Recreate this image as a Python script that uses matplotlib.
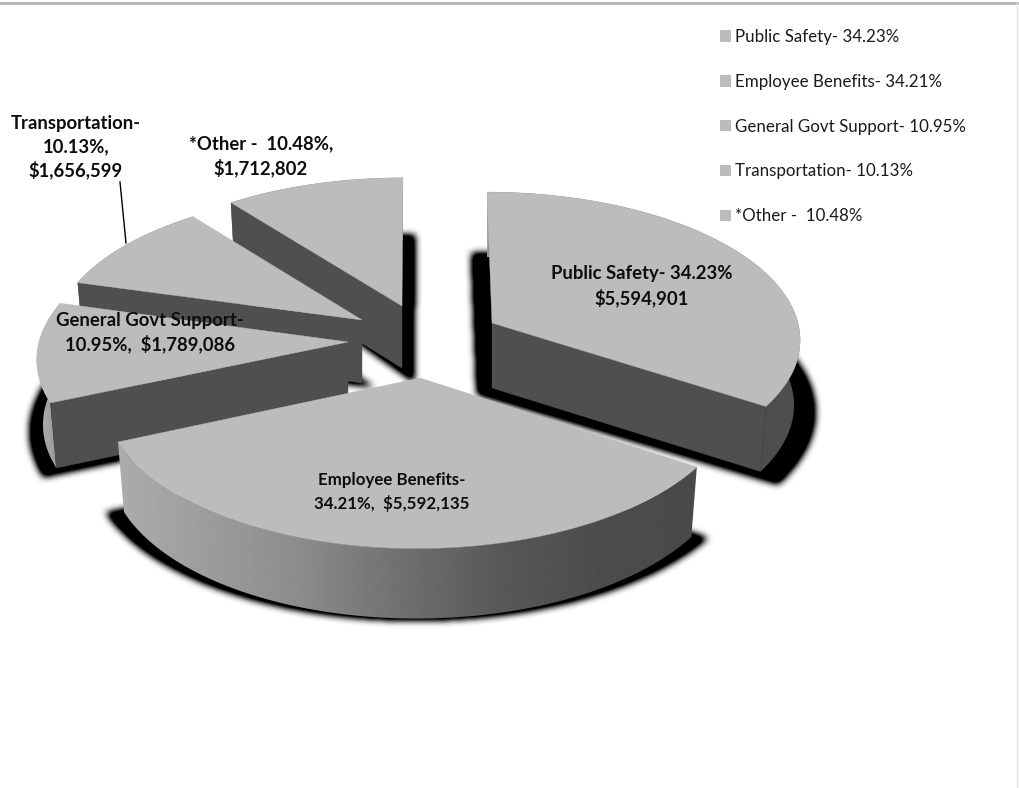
import numpy as np
import matplotlib
matplotlib.use('Agg')
import matplotlib.pyplot as plt
from matplotlib.patches import Patch, Polygon
from matplotlib.path import Path

categories = ['Public Safety-', 'Employee Benefits-', 'General Govt Support-', 'Transportation-', '*Other - ']
shares = [34.23, 34.21, 10.95, 10.13, 10.48]
amounts = [5594901, 5592135, 1789086, 1656599, 1712802]

# line breaks of each slice label
label_formats = ['{c} {p}%\n{a}', '{c}\n{p}%,  {a}', '{c}\n{p}%,  {a}', '{c}\n{p}%,\n{a}', '{c} {p}%,\n{a}']
label_x = [642, 392, 150, 76, 261]
label_y = [286, 492, 332.5, 147.5, 156.5]
label_size = [13.3, 12.2, 13.3, 13.3, 13.3]
label_spacing = [1.39, 1.52, 1.39, 1.39, 1.39]

# placement of each exploded slice on the page
apex_x = [492, 420, 348, 362, 402]
apex_y = [323, 378, 342, 320, 306]
radius_x = [306, 315, 309, 305, 303]
radius_y = [144, 153.5, 146, 141, 141]
skew = [-5.5, 3.3, 6.3, 5.4, 1.1]
depth = [65, 70, 65, 63, 62]
PERSPECTIVE = 0.1
BASE_SHRINK = 0.98

# which straight side of the slice faces the viewer: first edge, last edge or neither
cut_edges = [[-1], [], [0], [0], [0]]

# drop shadow: x scale, y scale, x shift, y shift
shadow_sx = [1.12, 1.06, 1.03, 1.0, 1.0]
shadow_sy = [1.08, 1.01, 1.05, 1.0, 1.15]
shadow_dx = [-15, 0, -4, 12, 12]
shadow_dy = [6, 0, 6, 4, 14]

# outer wall shading, page x against grey level
wall_x = [[486, 493, 800], [118, 300, 400, 500, 600, 697], [36, 60, 350], [78, 360], [230, 403]]
wall_grey = [[170, 78, 78], [172, 140, 112, 88, 76, 74], [178, 150, 120], [80, 80], [80, 80]]

TOP = '#bcbcbc'
CUT = '#4f4f4f'
W, H = 1019, 788


def rim(i, theta, base=False, sx=1.0, sy=1.0):
    c, s = np.cos(theta), np.sin(theta)
    f = 1 / (1 + PERSPECTIVE * s)
    dx = (radius_x[i] * c + skew[i] * s) * f * sx
    dy = -radius_y[i] * s * f * sy
    if base:
        return apex_x[i] + dx * BASE_SHRINK, apex_y[i] + dy + depth[i]
    return apex_x[i] + dx, apex_y[i] + dy


def blur(a, size):
    kernel = np.ones(size) / size
    for _ in range(3):
        a = np.apply_along_axis(lambda r: np.convolve(r, kernel, mode='same'), 0, a)
        a = np.apply_along_axis(lambda r: np.convolve(r, kernel, mode='same'), 1, a)
    return a


# slice angles, clockwise from twelve o'clock
edges = 90 - np.concatenate([[0], np.cumsum(shares)]) / sum(shares) * 360
arcs = [np.radians(np.linspace(edges[i], edges[i + 1], 120)) for i in range(len(shares))]

fig = plt.figure(figsize=(W / 100, H / 100), dpi=100)
ax = fig.add_axes([0, 0, 1, 1])
ax.set_xlim(0, W)
ax.set_ylim(H, 0)
ax.axis('off')
plt.rcParams['font.family'] = ['Lato', 'DejaVu Sans']

# soft shadows go under everything
gx, gy = np.meshgrid(np.arange(W) + 0.5, np.arange(H) + 0.5)
grid = np.column_stack([gx.ravel(), gy.ravel()])
mask = np.zeros((H, W))
for i, arc in enumerate(arcs):
    x, y = rim(i, arc, base=True, sx=shadow_sx[i], sy=shadow_sy[i])
    px = np.concatenate([[apex_x[i]], x]) + shadow_dx[i]
    py = np.concatenate([[apex_y[i] + depth[i]], y]) + shadow_dy[i]
    inside = Path(np.column_stack([px, py])).contains_points(grid).reshape(H, W)
    mask = np.maximum(mask, inside)
alpha = np.clip(blur(mask, 7) * 1.6, 0, 1)
shadow = np.zeros((H, W, 4))
shadow[..., 3] = alpha
ax.imshow(shadow, extent=(0, W, H, 0), zorder=1, aspect='auto', interpolation='bilinear')

# back slices first so the front ones overlap them
for n, i in enumerate([4, 3, 2, 0, 1]):
    z = 2 + n
    arc = arcs[i]
    tx, ty = rim(i, arc)
    bx, by = rim(i, arc, base=True)

    ramp = np.interp(np.arange(W), wall_x[i], wall_grey[i]) / 255
    wall = Polygon(np.column_stack([np.concatenate([tx, bx[::-1]]), np.concatenate([ty, by[::-1]])]),
                   closed=True, transform=ax.transData, fc='none', ec='none')
    ax.add_patch(wall)
    img = ax.imshow(ramp[np.newaxis, :], extent=(0, W, H, 0), cmap='gray', vmin=0, vmax=1,
                    zorder=z, aspect='auto', interpolation='bilinear')
    img.set_clip_path(wall)

    for k in cut_edges[i]:
        cut = [(apex_x[i], apex_y[i]), (tx[k], ty[k]), (bx[k], by[k]), (apex_x[i], apex_y[i] + depth[i])]
        ax.add_patch(Polygon(cut, closed=True, fc=CUT, ec=CUT, lw=0.3, zorder=z))

    top = np.column_stack([np.concatenate([[apex_x[i]], tx]), np.concatenate([[apex_y[i]], ty])])
    ax.add_patch(Polygon(top, closed=True, fc=TOP, ec=TOP, lw=0.3, zorder=z))

ax.set_xlim(0, W)
ax.set_ylim(H, 0)

# slice labels
for i, fmt in enumerate(label_formats):
    text = fmt.format(c=categories[i], p=f'{shares[i]:.2f}', a=f'${amounts[i]:,}')
    ax.text(label_x[i], label_y[i], text, ha='center', va='center', fontsize=label_size[i], fontweight='bold',
            color='#0d0d0d', linespacing=label_spacing[i], zorder=20)

# leader from the Transportation label
ax.plot([120, 126], [182, 243], color='black', lw=1, zorder=20)

# page edges
ax.plot([0, W], [2.5, 2.5], color='#b4b4b4', lw=2, zorder=20)
ax.plot([W - 1.5, W - 1.5], [3, H], color='#e4e4e4', lw=1, zorder=20)

handles = [Patch(fc=TOP, ec=TOP, lw=0, label=f'{c} {p:.2f}%') for c, p in zip(categories, shares)]
ax.legend(handles=handles, loc='upper left', bbox_to_anchor=(719.5 / W, 1 - 29 / H), frameon=False,
          prop={'size': 12.2, 'family': ['Lato', 'DejaVu Sans']}, labelcolor='#1a1a1a',
          handlelength=0.65, handleheight=0.65, handletextpad=0.24, labelspacing=1.70,
          borderpad=0, borderaxespad=0).set_zorder(20)

fig.savefig('out.png', dpi=100)
